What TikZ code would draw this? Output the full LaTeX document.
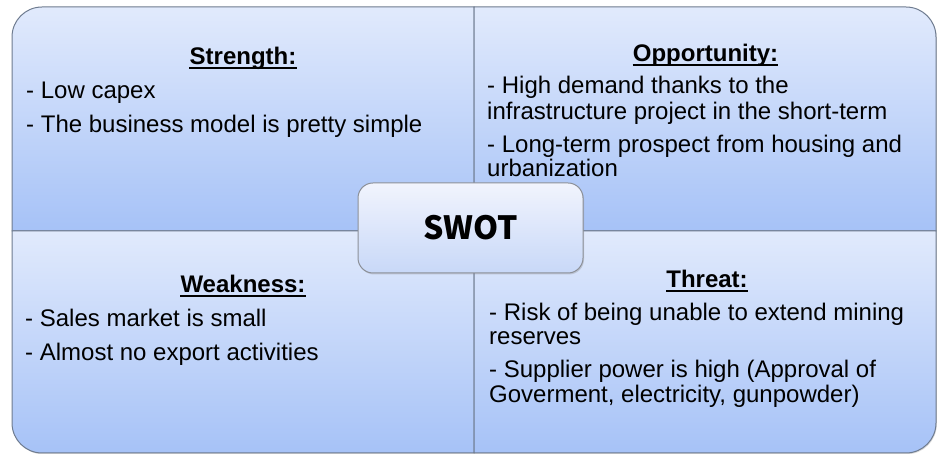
\documentclass[tikz,border=0pt]{standalone}
\usepackage{fontspec}
\setmainfont{Liberation Sans}
\newfontfamily\titlefont{Noto Sans CJK KR}
\usetikzlibrary{shadows}

\definecolor{qtop}{HTML}{E1EAFC}
\definecolor{qbot}{HTML}{A6C2F7}
\definecolor{qedge}{HTML}{6E7B8F}
\definecolor{ctop}{HTML}{F1F4FD}
\definecolor{cbot}{HTML}{C8D8F8}
\definecolor{cedge}{HTML}{8C9098}

\tikzset{
  quad/.style={top color=qtop, bottom color=qbot, draw=qedge, line width=1pt,
    drop shadow={shadow xshift=0.8pt, shadow yshift=-1.2pt, opacity=0.3}},
  bodytext/.style={anchor=base west, inner sep=0pt, font=\fontsize{24}{25}\selectfont},
  headtext/.style={anchor=base, inner sep=0pt, font=\fontsize{24}{25}\selectfont\bfseries},
  uline/.style={line width=1.6pt, black},
  swotbox/.style={rounded corners=15pt, minimum width=225pt, minimum height=90pt,
    inner sep=0pt, top color=ctop, bottom color=cbot, draw=cedge, line width=1pt,
    font=\titlefont\bfseries\fontsize{32}{34}\selectfont,
    drop shadow={shadow xshift=1pt, shadow yshift=-1.5pt, opacity=0.3}}
}

\begin{document}
\begin{tikzpicture}[x=1pt, y=1pt]
\useasboundingbox (0,0) rectangle (937,454);

% four quadrants, each with one rounded outer corner
\path[quad] (12,223) -- (12,417) arc[start angle=180, end angle=90, radius=30pt]
  -- (474,447) -- (474,223) -- cycle;
\path[quad] (474,223) -- (474,447) -- (906,447) arc[start angle=90, end angle=0, radius=30pt]
  -- (936,223) -- cycle;
\path[quad] (12,223) -- (474,223) -- (474,1) -- (42,1)
  arc[start angle=270, end angle=180, radius=30pt] -- cycle;
\path[quad] (474,223) -- (936,223) -- (936,31) arc[start angle=0, end angle=-90, radius=30pt]
  -- (474,1) -- cycle;

% Strength
\node[headtext] (hs) at (243,389) {Strength:};
\draw[uline] ([yshift=-3pt]hs.base west) -- ([yshift=-3pt]hs.base east);
\node[bodytext] (s1) at (26,355) {- Low capex};
\node[bodytext] (s2) at (26,321) {- The business model is pretty simple};

% Opportunity
\node[headtext] (ho) at (705.5,392) {Opportunity:};
\draw[uline] ([yshift=-3pt]ho.base west) -- ([yshift=-3pt]ho.base east);
\node[bodytext] (o1) at (487,360) {- High demand thanks to the};
\node[bodytext] (o2) at (487,334) {infrastructure project in the short-term};
\node[bodytext] (o3) at (487,301) {- Long-term prospect from housing and};
\node[bodytext] (o4) at (487,277) {urbanization};

% Weakness
\node[headtext] (hw) at (243,161) {Weakness:};
\draw[uline] ([yshift=-3pt]hw.base west) -- ([yshift=-3pt]hw.base east);
\node[bodytext] (w1) at (25,127) {- Sales market is small};
\node[bodytext] (w2) at (25,93) {- Almost no export activities};

% Threat
\node[headtext] (ht) at (707,166) {Threat:};
\draw[uline] ([yshift=-3pt]ht.base west) -- ([yshift=-3pt]ht.base east);
\node[bodytext] (t1) at (489,133) {- Risk of being unable to extend mining};
\node[bodytext] (t2) at (489,109) {reserves};
\node[bodytext] (t3) at (489,76) {- Supplier power is high (Approval of};
\node[bodytext] (t4) at (489,51) {Goverment, electricity, gunpowder)};

% centre label
\node[swotbox] (c) at (470.5,226) {SWOT};
\end{tikzpicture}
\end{document}
